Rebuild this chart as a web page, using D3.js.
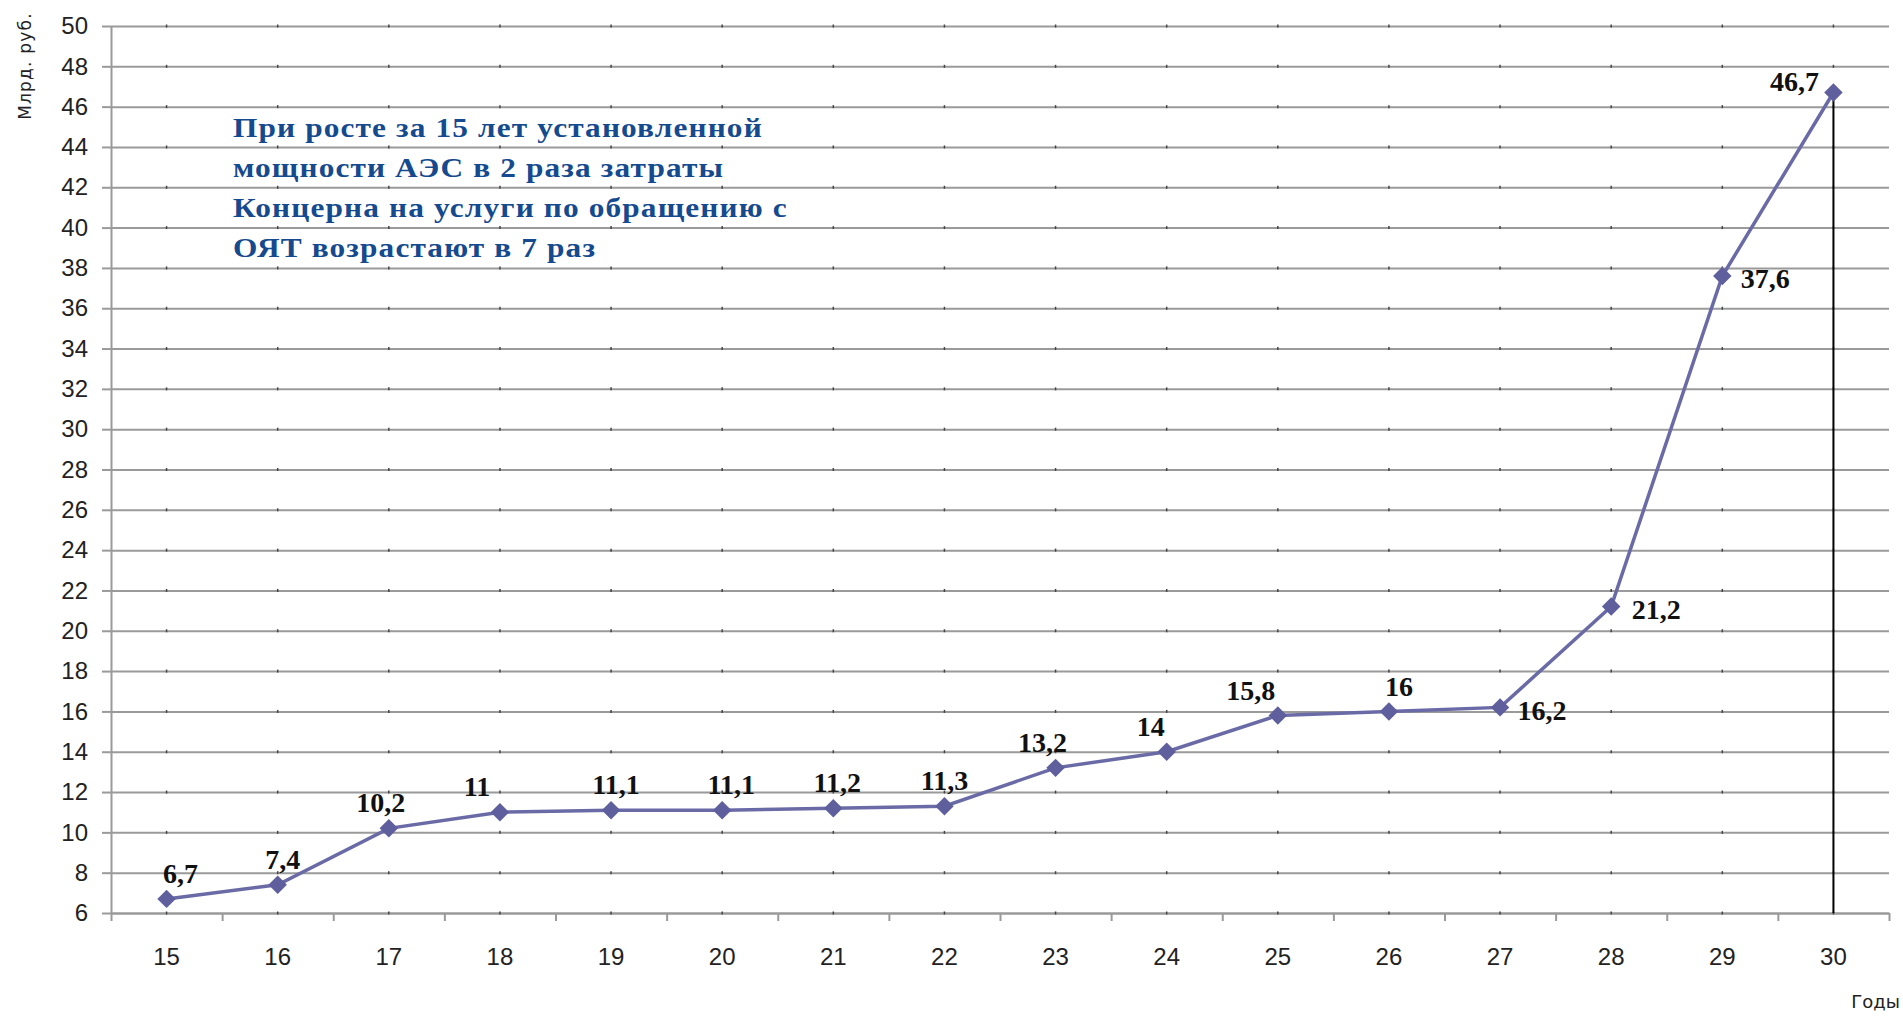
<!DOCTYPE html>
<html><head><meta charset="utf-8">
<script src="https://cdn.jsdelivr.net/npm/d3@7"></script>
<style>html,body{margin:0;padding:0;background:#fff;}svg{display:block;}</style>
</head><body>
<svg id="chart" width="1903" height="1016"></svg>
<script>
const years = ["15","16","17","18","19","20","21","22","23","24","25","26","27","28","29","30"];
const values = [6.7,7.4,10.2,11,11.1,11.1,11.2,11.3,13.2,14,15.8,16,16.2,21.2,37.6,46.7];
const valueLabels = ["6,7","7,4","10,2","11","11,1","11,1","11,2","11,3","13,2","14","15,8","16","16,2","21,2","37,6","46,7"];
const yTicks = [6,8,10,12,14,16,18,20,22,24,26,28,30,32,34,36,38,40,42,44,46,48,50];
const yTitle = "Млрд. руб.";
const xTitle = "Годы";
const noteLines = ["При росте за 15 лет установленной","мощности АЭС в 2 раза затраты","Концерна на услуги по обращению с","ОЯТ возрастают в 7 раз"];

(function(){
// label placement (style, not data): offsets of label centre / baseline from the point, px
const labelDx = [14,5,-8,-23,5,9,4,0,-13,-16,-27,10,42,45,43,-39];
const labelDy = [-16,-16,-16,-16,-16,-16,-16,-16,-16,-16,-15,-15,13,12,12,-2];

const svg = d3.select("#chart");
svg.append("rect").attr("width",1903).attr("height",1016).attr("fill","#fff");

const mL = 111, mR = 1889, mT = 26, mB = 913;
const x = d3.scaleBand().domain(years).range([mL,mR]).padding(0);
const y = d3.scaleLinear().domain([6,50]).range([mB,mT]);
const cx = d => x(d) + x.bandwidth()/2;
const gridColor = "#9a9a9a";
const tickFont = "'Liberation Sans', Arial, sans-serif";

// gridlines
const grid = svg.append("g").attr("transform",`translate(${mL},0)`)
  .call(d3.axisLeft(y).tickValues(yTicks).tickSize(-(mR-mL)).tickFormat(""));
grid.select(".domain").remove();
grid.selectAll("line").attr("stroke",gridColor).attr("stroke-width",2);

// y axis
const ya = svg.append("g").attr("transform",`translate(${mL},0)`)
  .call(d3.axisLeft(y).tickValues(yTicks).tickSize(9).tickSizeOuter(0).tickPadding(14));
ya.select(".domain").attr("stroke",gridColor).attr("stroke-width",2);
ya.selectAll("line").attr("stroke",gridColor).attr("stroke-width",2);
ya.selectAll("text").attr("font-family",tickFont).attr("font-size",24).attr("fill","#222");

// x axis boundary ticks
const xb = d3.scaleLinear().domain([0,years.length]).range([mL,mR]);
const xt = svg.append("g").attr("transform",`translate(0,${mB})`)
  .call(d3.axisBottom(xb).tickValues(d3.range(0,years.length+1)).tickSize(8).tickSizeOuter(0).tickFormat(""));
xt.select(".domain").attr("stroke",gridColor).attr("stroke-width",2);
xt.selectAll("line").attr("stroke",gridColor).attr("stroke-width",2);

// x labels
const xl = svg.append("g").attr("transform",`translate(0,${mB})`)
  .call(d3.axisBottom(x).tickSize(0).tickPadding(35));
xl.select(".domain").remove();
xl.selectAll("text").attr("font-family",tickFont).attr("font-size",24).attr("fill","#222");

// small marks at category centres on gridlines
const marks = [];
yTicks.forEach(t => years.forEach(c => marks.push([c,t])));
svg.append("g").selectAll("line").data(marks).join("line")
  .attr("x1",d=>cx(d[0])).attr("x2",d=>cx(d[0]))
  .attr("y1",d=>y(d[1])-1.5).attr("y2",d=>y(d[1])+1.5)
  .attr("stroke","#444").attr("stroke-width",1.5);

// vertical line at the last year
const last = years.length-1;
svg.append("line")
  .attr("x1",cx(years[last])).attr("x2",cx(years[last]))
  .attr("y1",y(values[last])).attr("y2",y(6))
  .attr("stroke","#000").attr("stroke-width",2);

// series line
const line = d3.line().x((d,i)=>cx(years[i])).y(d=>y(d));
svg.append("path").datum(values).attr("d",line)
  .attr("fill","none").attr("stroke","#6a6aa6").attr("stroke-width",3.5);

// markers
svg.append("g").selectAll("path").data(values).join("path")
  .attr("d",d3.symbol(d3.symbolSquare,170)())
  .attr("transform",(d,i)=>`translate(${cx(years[i])},${y(d)}) rotate(45)`)
  .attr("fill","#5f5f9d");

// data labels
svg.append("g").selectAll("text").data(values).join("text")
  .attr("x",(d,i)=>cx(years[i])+labelDx[i])
  .attr("y",(d,i)=>y(d)+labelDy[i])
  .attr("text-anchor","middle")
  .attr("font-family","'Liberation Serif','Times New Roman',serif")
  .attr("font-weight","bold").attr("font-size",28).attr("fill","#111")
  .text((d,i)=>valueLabels[i]);

// annotation (horizontally stretched like the original)
const sx = 1.12;
svg.append("g").attr("transform",`translate(233,0) scale(${sx},1)`)
  .selectAll("text").data(noteLines).join("text")
  .attr("x",0).attr("y",(d,i)=>137+i*40)
  .attr("font-family","'Liberation Serif','Times New Roman',serif")
  .attr("font-weight","bold").attr("font-size",28).attr("letter-spacing",1)
  .attr("fill","#154a8e")
  .text(d=>d);

// axis titles
svg.append("text").attr("transform","translate(31,66) rotate(-90)")
  .attr("text-anchor","middle").attr("font-family","'DejaVu Sans',sans-serif")
  .attr("font-size",17).attr("letter-spacing",1.2).attr("fill","#222").text(yTitle);
svg.append("text").attr("x",1900).attr("y",1008).attr("text-anchor","end")
  .attr("font-family","'DejaVu Sans',sans-serif").attr("font-size",18).attr("fill","#222").text(xTitle);
})();
</script>
</body></html>
